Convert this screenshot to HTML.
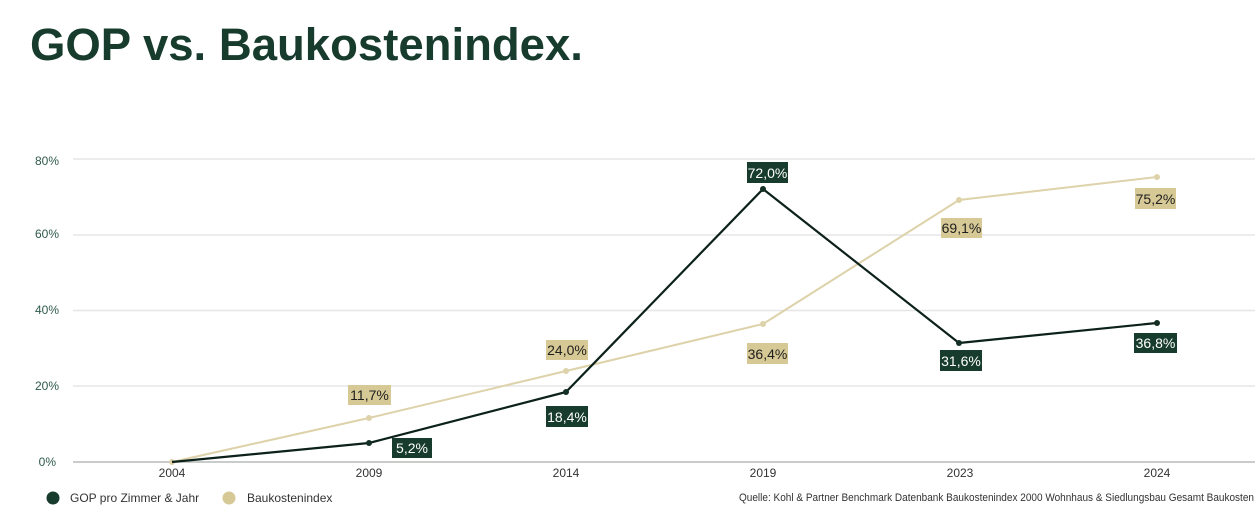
<!DOCTYPE html>
<html>
<head>
<meta charset="utf-8">
<style>
  html,body{margin:0;padding:0;background:#fff;}
  body{width:1255px;height:514px;overflow:hidden;}
  svg{display:block;}
</style>
</head>
<body>
<svg width="1255" height="514" viewBox="0 0 1255 514" xmlns="http://www.w3.org/2000/svg" font-family="'Liberation Sans', Arial, sans-serif">
  <!-- Title -->
  <text x="30" y="60" font-size="45.5" font-weight="bold" fill="#173b2d">GOP vs. Baukostenindex.</text>

  <!-- Gridlines -->
  <g stroke="#e6e6e6" stroke-width="1.5">
    <line x1="73" y1="159" x2="1255" y2="159"/>
    <line x1="73" y1="235" x2="1255" y2="235"/>
    <line x1="73" y1="310.5" x2="1255" y2="310.5"/>
    <line x1="73" y1="386" x2="1255" y2="386"/>
  </g>
  <line x1="73" y1="462" x2="1255" y2="462" stroke="#b8bbb9" stroke-width="1.5"/>

  <!-- Y labels -->
  <g font-size="12" fill="#2f5a4b" text-anchor="end">
    <text x="59" y="165">80%</text>
    <text x="59" y="238">60%</text>
    <text x="59" y="314">40%</text>
    <text x="59" y="390">20%</text>
    <text x="56" y="466">0%</text>
  </g>

  <!-- X labels -->
  <g font-size="12" fill="#333" text-anchor="middle">
    <text x="172" y="477">2004</text>
    <text x="369" y="477">2009</text>
    <text x="566" y="477">2014</text>
    <text x="763" y="477">2019</text>
    <text x="960" y="477">2023</text>
    <text x="1157" y="477">2024</text>
  </g>

  <!-- Baukostenindex line -->
  <polyline fill="none" stroke="#ddd2a9" stroke-width="2" stroke-linejoin="round"
    points="172,462 369,418 566,371 763,324 959,200 1157,177"/>
  <g fill="#ddd2a9">
    <circle cx="172" cy="462" r="3"/>
    <circle cx="369" cy="418" r="3"/>
    <circle cx="566" cy="371" r="3"/>
    <circle cx="763" cy="324" r="3"/>
    <circle cx="959" cy="200" r="3"/>
    <circle cx="1157" cy="177" r="3"/>
  </g>

  <!-- GOP line -->
  <polyline fill="none" stroke="#0c2119" stroke-width="2.2" stroke-linejoin="round"
    points="172,462 369,443 566,392 763,189 959,343 1157,323"/>
  <g fill="#142f24">
    <circle cx="369" cy="443" r="3"/>
    <circle cx="566" cy="392" r="3"/>
    <circle cx="763" cy="189" r="3"/>
    <circle cx="959" cy="343" r="3"/>
    <circle cx="1157" cy="323" r="3"/>
  </g>

  <!-- Beige labels -->
  <g font-size="14" fill="#1e1e1e" text-anchor="middle">
    <rect x="348" y="385" width="43" height="20" fill="#d7c996"/>
    <text x="369.5" y="400">11,7%</text>
    <rect x="546" y="340" width="42" height="20" fill="#d7c996"/>
    <text x="567" y="355">24,0%</text>
    <rect x="747" y="343" width="41" height="21" fill="#d7c996"/>
    <text x="767.5" y="359">36,4%</text>
    <rect x="941" y="218" width="41" height="20" fill="#d7c996"/>
    <text x="961.5" y="233">69,1%</text>
    <rect x="1135" y="188" width="41" height="21" fill="#d7c996"/>
    <text x="1155.5" y="204">75,2%</text>
  </g>

  <!-- Dark labels -->
  <g font-size="14" fill="#ffffff" text-anchor="middle">
    <rect x="747" y="162" width="41" height="21" fill="#173b2d"/>
    <text x="767.5" y="178">72,0%</text>
    <rect x="546" y="406" width="42" height="21" fill="#173b2d"/>
    <text x="567" y="422">18,4%</text>
    <rect x="392" y="438" width="40" height="20" fill="#173b2d"/>
    <text x="412" y="453">5,2%</text>
    <rect x="940" y="350" width="42" height="21" fill="#173b2d"/>
    <text x="961" y="366">31,6%</text>
    <rect x="1134" y="333" width="43" height="20" fill="#173b2d"/>
    <text x="1155.5" y="348">36,8%</text>
  </g>

  <!-- Legend -->
  <circle cx="53" cy="498" r="6.5" fill="#173b2d"/>
  <text x="70" y="502" font-size="12" fill="#333">GOP pro Zimmer &amp; Jahr</text>
  <circle cx="229" cy="498" r="6.5" fill="#d7c996"/>
  <text x="247" y="502" font-size="12" fill="#333">Baukostenindex</text>

  <!-- Source -->
  <text x="739" y="501" font-size="11" fill="#333" textLength="515" lengthAdjust="spacingAndGlyphs">Quelle:  Kohl &amp; Partner Benchmark Datenbank Baukostenindex 2000 Wohnhaus &amp; Siedlungsbau Gesamt Baukosten</text>
</svg>
</body>
</html>
